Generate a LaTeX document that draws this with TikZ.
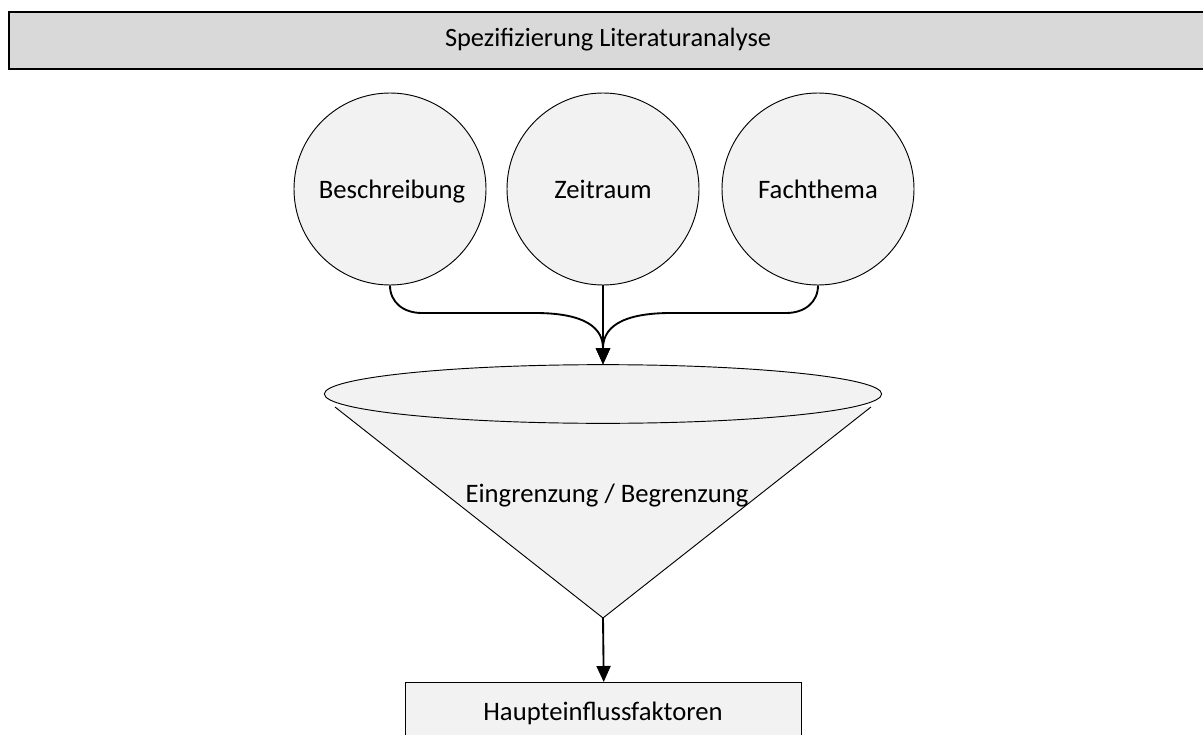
\documentclass[tikz,border=0pt]{standalone}
\usepackage{fontspec}
\setmainfont{Carlito}
\usetikzlibrary{arrows.meta,shapes.geometric}
\definecolor{barfill}{HTML}{D9D9D9}
\definecolor{shapefill}{HTML}{F2F2F2}
\begin{document}
\begin{tikzpicture}[x=0.75pt,y=-0.75pt,
  lbl/.style={font=\fontsize{20}{24}\selectfont, text=black,
    text height=14pt, text depth=4pt, inner sep=0pt},
  topic/.style={circle, draw=black, line width=0.7pt, fill=shapefill,
    minimum size=144pt, inner sep=0pt},
  flow/.style={line width=1.4pt, -{Triangle[length=12pt,width=10.5pt]}},
]
\useasboundingbox (0,0) rectangle (1203,735);
\begin{scope}
\clip (0,0) rectangle (1203,735);
% header bar running off the right edge
\node[draw=black, line width=1.6pt, fill=barfill, anchor=north west,
  minimum width=1210pt, minimum height=42.5pt, inner sep=0pt] (head) at (8,11) {};
\node[lbl, font=\fontsize{19.8}{23}\selectfont] (headtxt) at (608,40) {Spezifizierung Literaturanalyse};

% three input circles
\node[topic] (beschr) at (390,189) {};
\node[topic] (zeit) at (603,189) {};
\node[topic] (fach) at (818,189) {};
\node[lbl] (beschrtxt) at (392,192) {Beschreibung};
\node[lbl] (zeittxt) at (603,192) {Zeitraum};
\node[lbl] (fachtxt) at (818,192) {Fachthema};

% funnel: cone below an open ellipse
\coordinate (apex) at (603,618);
\path[draw=black, line width=0.7pt, fill=shapefill]
  (335,407) -- (apex) -- (871,407);
\node[ellipse, draw=black, line width=0.7pt, fill=shapefill,
  minimum width=418pt, minimum height=44pt, inner sep=0pt] (rim) at (603,394) {};
\node[lbl] (funtxt) at (607,496) {Eingrenzung / Begrenzung};

% result box running off the bottom edge
\node[draw=black, line width=1.1pt, fill=shapefill, anchor=north west,
  minimum width=297pt, minimum height=60pt, inner sep=0pt] (result) at (405,682) {};
\node[lbl] (restxt) at (603,714) {Haupteinflussfaktoren};

% connectors
\draw[flow] (beschr.south) .. controls (390,302) and (403,313) .. (422,313) -- (535,313)
  .. controls (596,313) and (603,335) .. (rim.north);
\draw[flow] (fach.south) .. controls (818,302) and (805,313) .. (786,313) -- (671,313)
  .. controls (610,313) and (603,335) .. (rim.north);
\draw[flow] (zeit.south) -- (rim.north);
\draw[flow] (apex) -- (result.north);
\end{scope}
\end{tikzpicture}
\end{document}
